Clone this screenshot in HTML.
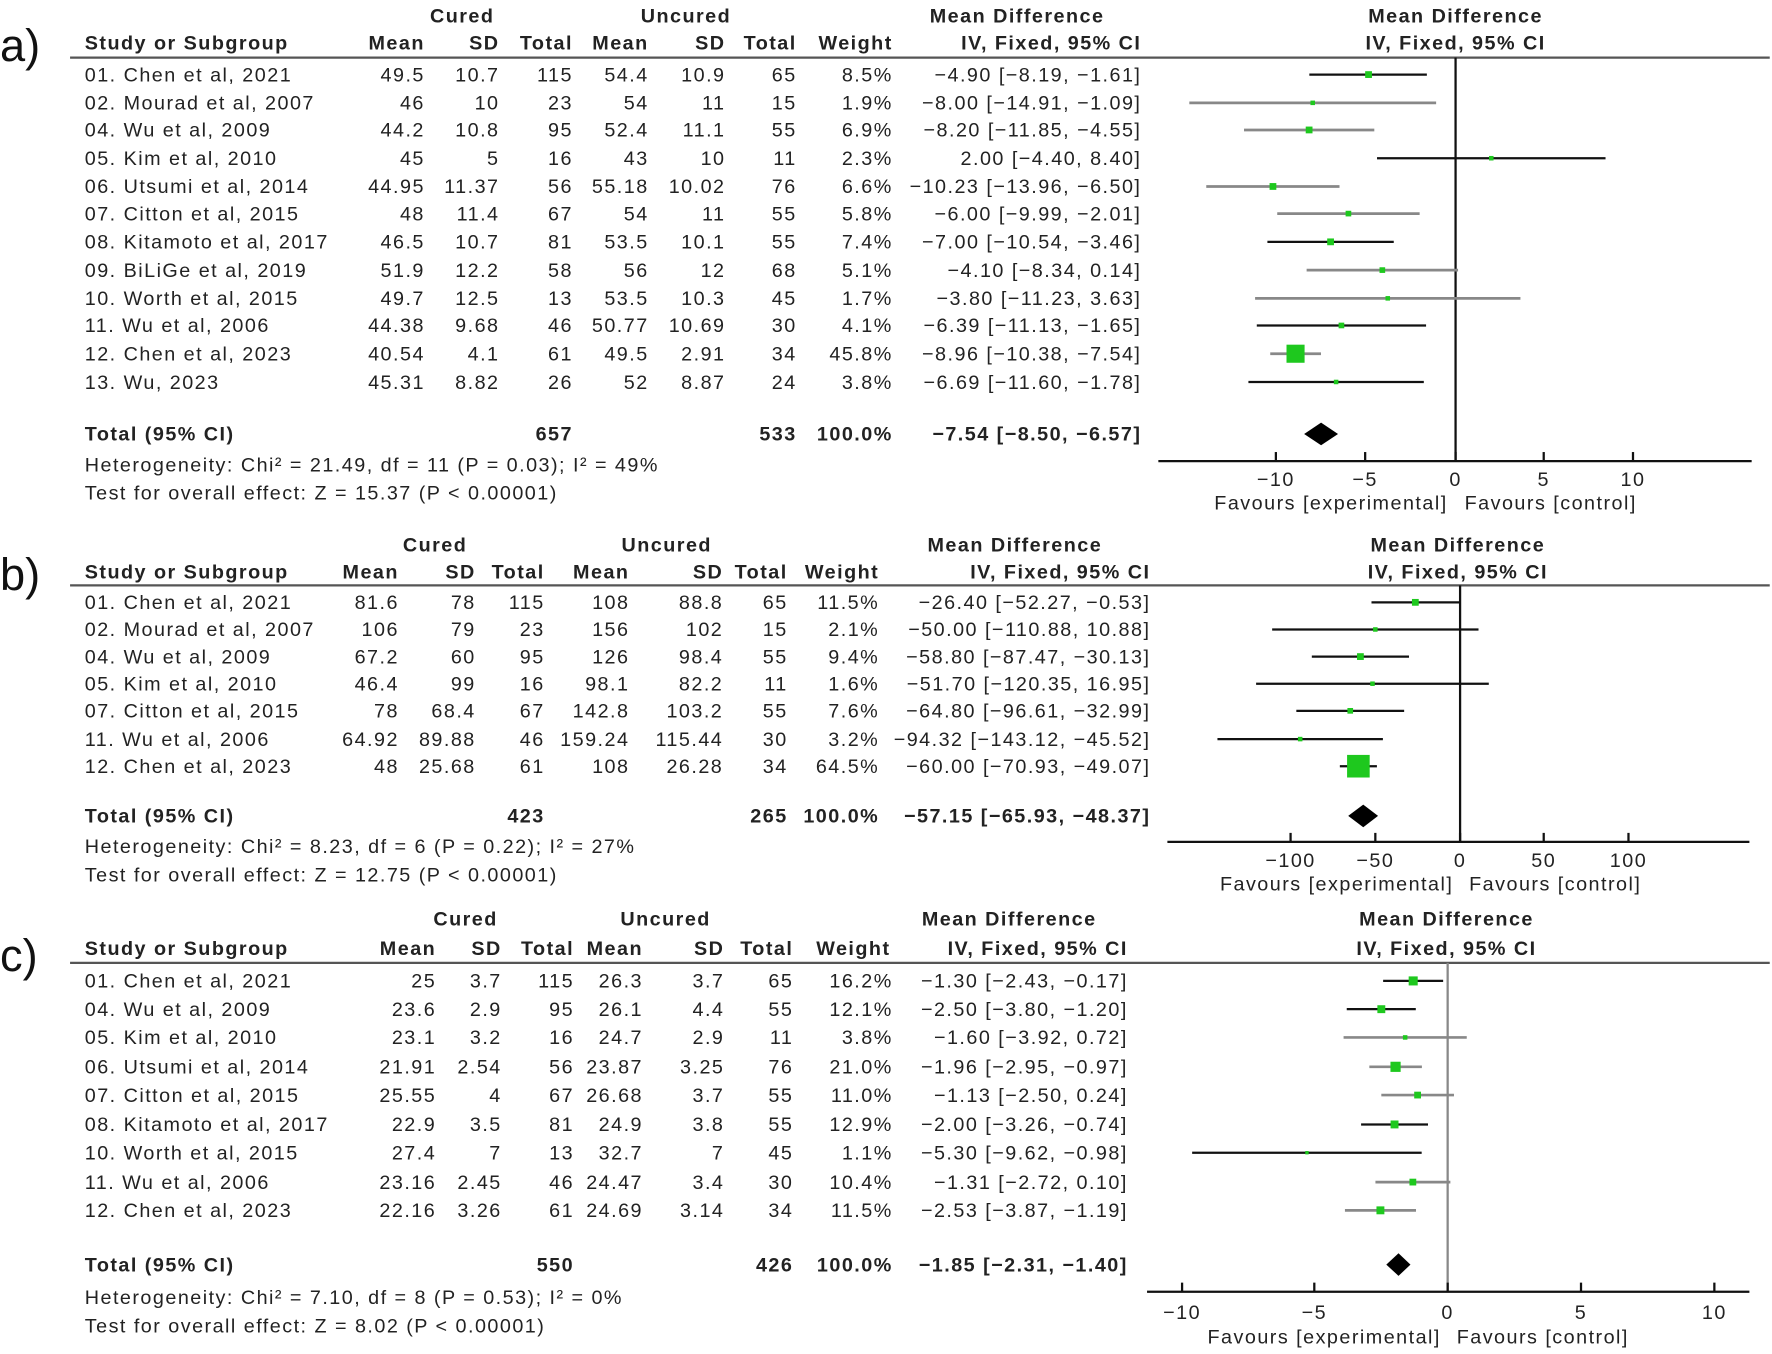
<!DOCTYPE html>
<html><head><meta charset="utf-8"><style>
html,body{margin:0;padding:0;background:#fff;width:1772px;height:1353px;overflow:hidden}
svg{position:absolute;left:0;top:0;transform-origin:0 0;transform:scale(1.1301)}
text{font-family:"Liberation Sans",sans-serif;font-size:17.5px;fill:#222;letter-spacing:1.3px}
.b{font-weight:bold}
.e{text-anchor:end}.m{text-anchor:middle}
.lab{font-size:40px;fill:#111;letter-spacing:0}
.k{stroke:#111;stroke-width:2}.g{stroke:#888;stroke-width:2.4}
.bx{fill:#1ec81e}
</style></head><body>
<svg width="1568" height="1198" viewBox="0 0 1568 1198" xmlns="http://www.w3.org/2000/svg">
<!-- ================= A ================= -->
<text class="lab" x="0" y="54">a)</text>
<g class="b">
<text class="m" x="409" y="20">Cured</text><text class="m" x="607" y="20">Uncured</text>
<text class="m" x="900" y="20">Mean Difference</text><text class="m" x="1288" y="20">Mean Difference</text>
<text x="75" y="44">Study or Subgroup</text>
<text class="e" x="376" y="44">Mean</text><text class="e" x="442" y="44">SD</text><text class="e" x="507" y="44">Total</text>
<text class="e" x="574" y="44">Mean</text><text class="e" x="642" y="44">SD</text><text class="e" x="705" y="44">Total</text>
<text class="e" x="790" y="44">Weight</text><text class="e" x="1010" y="44">IV, Fixed, 95% CI</text>
<text class="m" x="1288" y="44">IV, Fixed, 95% CI</text>
</g>
<line x1="62" y1="51" x2="1566" y2="51" stroke="#555" stroke-width="2"/>
<g>
<text x="75" y="72">01. Chen et al, 2021</text><text class="e" x="376" y="72">49.5</text><text class="e" x="442" y="72">10.7</text><text class="e" x="507" y="72">115</text><text class="e" x="574" y="72">54.4</text><text class="e" x="642" y="72">10.9</text><text class="e" x="705" y="72">65</text><text class="e" x="790" y="72">8.5%</text><text class="e" x="1010" y="72">−4.90 [−8.19, −1.61]</text>
<text x="75" y="97">02. Mourad et al, 2007</text><text class="e" x="376" y="97">46</text><text class="e" x="442" y="97">10</text><text class="e" x="507" y="97">23</text><text class="e" x="574" y="97">54</text><text class="e" x="642" y="97">11</text><text class="e" x="705" y="97">15</text><text class="e" x="790" y="97">1.9%</text><text class="e" x="1010" y="97">−8.00 [−14.91, −1.09]</text>
<text x="75" y="121">04. Wu et al, 2009</text><text class="e" x="376" y="121">44.2</text><text class="e" x="442" y="121">10.8</text><text class="e" x="507" y="121">95</text><text class="e" x="574" y="121">52.4</text><text class="e" x="642" y="121">11.1</text><text class="e" x="705" y="121">55</text><text class="e" x="790" y="121">6.9%</text><text class="e" x="1010" y="121">−8.20 [−11.85, −4.55]</text>
<text x="75" y="146">05. Kim et al, 2010</text><text class="e" x="376" y="146">45</text><text class="e" x="442" y="146">5</text><text class="e" x="507" y="146">16</text><text class="e" x="574" y="146">43</text><text class="e" x="642" y="146">10</text><text class="e" x="705" y="146">11</text><text class="e" x="790" y="146">2.3%</text><text class="e" x="1010" y="146">2.00 [−4.40, 8.40]</text>
<text x="75" y="171">06. Utsumi et al, 2014</text><text class="e" x="376" y="171">44.95</text><text class="e" x="442" y="171">11.37</text><text class="e" x="507" y="171">56</text><text class="e" x="574" y="171">55.18</text><text class="e" x="642" y="171">10.02</text><text class="e" x="705" y="171">76</text><text class="e" x="790" y="171">6.6%</text><text class="e" x="1010" y="171">−10.23 [−13.96, −6.50]</text>
<text x="75" y="195">07. Citton et al, 2015</text><text class="e" x="376" y="195">48</text><text class="e" x="442" y="195">11.4</text><text class="e" x="507" y="195">67</text><text class="e" x="574" y="195">54</text><text class="e" x="642" y="195">11</text><text class="e" x="705" y="195">55</text><text class="e" x="790" y="195">5.8%</text><text class="e" x="1010" y="195">−6.00 [−9.99, −2.01]</text>
<text x="75" y="220">08. Kitamoto et al, 2017</text><text class="e" x="376" y="220">46.5</text><text class="e" x="442" y="220">10.7</text><text class="e" x="507" y="220">81</text><text class="e" x="574" y="220">53.5</text><text class="e" x="642" y="220">10.1</text><text class="e" x="705" y="220">55</text><text class="e" x="790" y="220">7.4%</text><text class="e" x="1010" y="220">−7.00 [−10.54, −3.46]</text>
<text x="75" y="245">09. BiLiGe et al, 2019</text><text class="e" x="376" y="245">51.9</text><text class="e" x="442" y="245">12.2</text><text class="e" x="507" y="245">58</text><text class="e" x="574" y="245">56</text><text class="e" x="642" y="245">12</text><text class="e" x="705" y="245">68</text><text class="e" x="790" y="245">5.1%</text><text class="e" x="1010" y="245">−4.10 [−8.34, 0.14]</text>
<text x="75" y="270">10. Worth et al, 2015</text><text class="e" x="376" y="270">49.7</text><text class="e" x="442" y="270">12.5</text><text class="e" x="507" y="270">13</text><text class="e" x="574" y="270">53.5</text><text class="e" x="642" y="270">10.3</text><text class="e" x="705" y="270">45</text><text class="e" x="790" y="270">1.7%</text><text class="e" x="1010" y="270">−3.80 [−11.23, 3.63]</text>
<text x="75" y="294">11. Wu et al, 2006</text><text class="e" x="376" y="294">44.38</text><text class="e" x="442" y="294">9.68</text><text class="e" x="507" y="294">46</text><text class="e" x="574" y="294">50.77</text><text class="e" x="642" y="294">10.69</text><text class="e" x="705" y="294">30</text><text class="e" x="790" y="294">4.1%</text><text class="e" x="1010" y="294">−6.39 [−11.13, −1.65]</text>
<text x="75" y="319">12. Chen et al, 2023</text><text class="e" x="376" y="319">40.54</text><text class="e" x="442" y="319">4.1</text><text class="e" x="507" y="319">61</text><text class="e" x="574" y="319">49.5</text><text class="e" x="642" y="319">2.91</text><text class="e" x="705" y="319">34</text><text class="e" x="790" y="319">45.8%</text><text class="e" x="1010" y="319">−8.96 [−10.38, −7.54]</text>
<text x="75" y="344">13. Wu, 2023</text><text class="e" x="376" y="344">45.31</text><text class="e" x="442" y="344">8.82</text><text class="e" x="507" y="344">26</text><text class="e" x="574" y="344">52</text><text class="e" x="642" y="344">8.87</text><text class="e" x="705" y="344">24</text><text class="e" x="790" y="344">3.8%</text><text class="e" x="1010" y="344">−6.69 [−11.60, −1.78]</text>
</g>
<g class="b"><text x="75" y="390">Total (95% CI)</text><text class="e" x="507" y="390">657</text><text class="e" x="705" y="390">533</text><text class="e" x="790" y="390">100.0%</text><text class="e" x="1010" y="390">−7.54 [−8.50, −6.57]</text></g>
<text x="75" y="417">Heterogeneity: Chi² = 21.49, df = 11 (P = 0.03); I² = 49%</text>
<text x="75" y="442">Test for overall effect: Z = 15.37 (P &lt; 0.00001)</text>
<line x1="1288" y1="51" x2="1288" y2="408" class="k" stroke-width="1.6"/>
<g>
<line class="k" x1="1158.6" y1="66" x2="1262.6" y2="66"/><rect class="bx" x="1208" y="63" width="6" height="6"/>
<line class="g" x1="1052.4" y1="91" x2="1270.8" y2="91"/><rect class="bx" x="1159.6" y="89" width="4" height="4"/>
<line class="g" x1="1100.8" y1="115" x2="1216.1" y2="115"/><rect class="bx" x="1155.4" y="112" width="6" height="6"/>
<line class="k" x1="1218.5" y1="140" x2="1420.7" y2="140"/><rect class="bx" x="1317.6" y="138" width="4" height="4"/>
<line class="g" x1="1067.4" y1="165" x2="1185.3" y2="165"/><rect class="bx" x="1123.4" y="162" width="6" height="6"/>
<line class="g" x1="1130.2" y1="189" x2="1256.2" y2="189"/><rect class="bx" x="1190.7" y="186.5" width="5" height="5"/>
<line class="k" x1="1121.5" y1="214" x2="1233.3" y2="214"/><rect class="bx" x="1174.4" y="211" width="6" height="6"/>
<line class="g" x1="1156.2" y1="239" x2="1290.2" y2="239"/><rect class="bx" x="1220.7" y="236.5" width="5" height="5"/>
<line class="g" x1="1110.6" y1="264" x2="1345.4" y2="264"/><rect class="bx" x="1226" y="262" width="4" height="4"/>
<line class="k" x1="1112.1" y1="288" x2="1261.9" y2="288"/><rect class="bx" x="1184.5" y="285.5" width="5" height="5"/>
<line class="g" x1="1124" y1="313" x2="1168.9" y2="313"/><rect class="bx" x="1138.4" y="305" width="16" height="16"/>
<line class="k" x1="1104.7" y1="338" x2="1259.9" y2="338"/><rect class="bx" x="1180.3" y="336" width="4" height="4"/>
<polygon points="1154,384 1169,374 1184,384 1169,394" fill="#000"/>
</g>
<line x1="1025" y1="408" x2="1550" y2="408" class="k"/>
<g class="k"><line x1="1129" y1="400" x2="1129" y2="408"/><line x1="1208" y1="400" x2="1208" y2="408"/><line x1="1288" y1="400" x2="1288" y2="408"/><line x1="1366" y1="400" x2="1366" y2="408"/><line x1="1445" y1="400" x2="1445" y2="408"/></g>
<text class="m" x="1129" y="430">−10</text><text class="m" x="1208" y="430">−5</text><text class="m" x="1288" y="430">0</text><text class="m" x="1366" y="430">5</text><text class="m" x="1445" y="430">10</text>
<text class="e" x="1281" y="451">Favours [experimental]</text><text x="1296" y="451">Favours [control]</text>

<!-- ================= B ================= -->
<text class="lab" x="0" y="522">b)</text>
<g class="b">
<text class="m" x="385" y="488">Cured</text><text class="m" x="590" y="488">Uncured</text>
<text class="m" x="898" y="488">Mean Difference</text><text class="m" x="1290" y="488">Mean Difference</text>
<text x="75" y="512">Study or Subgroup</text>
<text class="e" x="353" y="512">Mean</text><text class="e" x="421" y="512">SD</text><text class="e" x="482" y="512">Total</text>
<text class="e" x="557" y="512">Mean</text><text class="e" x="640" y="512">SD</text><text class="e" x="697" y="512">Total</text>
<text class="e" x="778" y="512">Weight</text><text class="e" x="1018" y="512">IV, Fixed, 95% CI</text>
<text class="m" x="1290" y="512">IV, Fixed, 95% CI</text>
</g>
<line x1="62" y1="518" x2="1566" y2="518" stroke="#555" stroke-width="2"/>
<g>
<text x="75" y="539">01. Chen et al, 2021</text><text class="e" x="353" y="539">81.6</text><text class="e" x="421" y="539">78</text><text class="e" x="482" y="539">115</text><text class="e" x="557" y="539">108</text><text class="e" x="640" y="539">88.8</text><text class="e" x="697" y="539">65</text><text class="e" x="778" y="539">11.5%</text><text class="e" x="1018" y="539">−26.40 [−52.27, −0.53]</text>
<text x="75" y="563">02. Mourad et al, 2007</text><text class="e" x="353" y="563">106</text><text class="e" x="421" y="563">79</text><text class="e" x="482" y="563">23</text><text class="e" x="557" y="563">156</text><text class="e" x="640" y="563">102</text><text class="e" x="697" y="563">15</text><text class="e" x="778" y="563">2.1%</text><text class="e" x="1018" y="563">−50.00 [−110.88, 10.88]</text>
<text x="75" y="587">04. Wu et al, 2009</text><text class="e" x="353" y="587">67.2</text><text class="e" x="421" y="587">60</text><text class="e" x="482" y="587">95</text><text class="e" x="557" y="587">126</text><text class="e" x="640" y="587">98.4</text><text class="e" x="697" y="587">55</text><text class="e" x="778" y="587">9.4%</text><text class="e" x="1018" y="587">−58.80 [−87.47, −30.13]</text>
<text x="75" y="611">05. Kim et al, 2010</text><text class="e" x="353" y="611">46.4</text><text class="e" x="421" y="611">99</text><text class="e" x="482" y="611">16</text><text class="e" x="557" y="611">98.1</text><text class="e" x="640" y="611">82.2</text><text class="e" x="697" y="611">11</text><text class="e" x="778" y="611">1.6%</text><text class="e" x="1018" y="611">−51.70 [−120.35, 16.95]</text>
<text x="75" y="635">07. Citton et al, 2015</text><text class="e" x="353" y="635">78</text><text class="e" x="421" y="635">68.4</text><text class="e" x="482" y="635">67</text><text class="e" x="557" y="635">142.8</text><text class="e" x="640" y="635">103.2</text><text class="e" x="697" y="635">55</text><text class="e" x="778" y="635">7.6%</text><text class="e" x="1018" y="635">−64.80 [−96.61, −32.99]</text>
<text x="75" y="660">11. Wu et al, 2006</text><text class="e" x="353" y="660">64.92</text><text class="e" x="421" y="660">89.88</text><text class="e" x="482" y="660">46</text><text class="e" x="557" y="660">159.24</text><text class="e" x="640" y="660">115.44</text><text class="e" x="697" y="660">30</text><text class="e" x="778" y="660">3.2%</text><text class="e" x="1018" y="660">−94.32 [−143.12, −45.52]</text>
<text x="75" y="684">12. Chen et al, 2023</text><text class="e" x="353" y="684">48</text><text class="e" x="421" y="684">25.68</text><text class="e" x="482" y="684">61</text><text class="e" x="557" y="684">108</text><text class="e" x="640" y="684">26.28</text><text class="e" x="697" y="684">34</text><text class="e" x="778" y="684">64.5%</text><text class="e" x="1018" y="684">−60.00 [−70.93, −49.07]</text>
</g>
<g class="b"><text x="75" y="728">Total (95% CI)</text><text class="e" x="482" y="728">423</text><text class="e" x="697" y="728">265</text><text class="e" x="778" y="728">100.0%</text><text class="e" x="1018" y="728">−57.15 [−65.93, −48.37]</text></g>
<text x="75" y="755">Heterogeneity: Chi² = 8.23, df = 6 (P = 0.22); I² = 27%</text>
<text x="75" y="780">Test for overall effect: Z = 12.75 (P &lt; 0.00001)</text>
<line x1="1292" y1="518" x2="1292" y2="745" class="k" stroke-width="1.6"/>
<g>
<line class="k" x1="1213.6" y1="533" x2="1291.2" y2="533"/><rect class="bx" x="1249.4" y="530" width="6" height="6"/>
<line class="k" x1="1125.7" y1="557" x2="1308.3" y2="557"/><rect class="bx" x="1215" y="555" width="4" height="4"/>
<line class="k" x1="1160.8" y1="581" x2="1246.8" y2="581"/><rect class="bx" x="1200.8" y="578" width="6" height="6"/>
<line class="k" x1="1111.5" y1="605" x2="1317.4" y2="605"/><rect class="bx" x="1212.5" y="603" width="4" height="4"/>
<line class="k" x1="1147.1" y1="629" x2="1242.5" y2="629"/><rect class="bx" x="1192.3" y="626.5" width="5" height="5"/>
<line class="k" x1="1077.3" y1="654" x2="1223.7" y2="654"/><rect class="bx" x="1148.5" y="652" width="4" height="4"/>
<line class="k" x1="1185.6" y1="678" x2="1218.4" y2="678"/><rect class="bx" x="1192" y="668" width="20" height="20"/>
<polygon points="1193,722 1206.3,712 1219.4,722 1206.3,732" fill="#000"/>
</g>
<line x1="1033" y1="745" x2="1548" y2="745" class="k"/>
<g class="k"><line x1="1142" y1="737" x2="1142" y2="745"/><line x1="1217" y1="737" x2="1217" y2="745"/><line x1="1292" y1="737" x2="1292" y2="745"/><line x1="1366" y1="737" x2="1366" y2="745"/><line x1="1441" y1="737" x2="1441" y2="745"/></g>
<text class="m" x="1142" y="767">−100</text><text class="m" x="1217" y="767">−50</text><text class="m" x="1292" y="767">0</text><text class="m" x="1366" y="767">50</text><text class="m" x="1441" y="767">100</text>
<text class="e" x="1286" y="788">Favours [experimental]</text><text x="1300" y="788">Favours [control]</text>

<!-- ================= C ================= -->
<text class="lab" x="0" y="859">c)</text>
<g class="b">
<text class="m" x="412" y="819">Cured</text><text class="m" x="589" y="819">Uncured</text>
<text class="m" x="893" y="819">Mean Difference</text><text class="m" x="1280" y="819">Mean Difference</text>
<text x="75" y="845">Study or Subgroup</text>
<text class="e" x="386" y="845">Mean</text><text class="e" x="444" y="845">SD</text><text class="e" x="508" y="845">Total</text>
<text class="e" x="569" y="845">Mean</text><text class="e" x="641" y="845">SD</text><text class="e" x="702" y="845">Total</text>
<text class="e" x="788" y="845">Weight</text><text class="e" x="998" y="845">IV, Fixed, 95% CI</text>
<text class="m" x="1280" y="845">IV, Fixed, 95% CI</text>
</g>
<line x1="62" y1="852" x2="1566" y2="852" stroke="#555" stroke-width="2"/>
<g>
<text x="75" y="874">01. Chen et al, 2021</text><text class="e" x="386" y="874">25</text><text class="e" x="444" y="874">3.7</text><text class="e" x="508" y="874">115</text><text class="e" x="569" y="874">26.3</text><text class="e" x="641" y="874">3.7</text><text class="e" x="702" y="874">65</text><text class="e" x="790" y="874">16.2%</text><text class="e" x="998" y="874">−1.30 [−2.43, −0.17]</text>
<text x="75" y="899">04. Wu et al, 2009</text><text class="e" x="386" y="899">23.6</text><text class="e" x="444" y="899">2.9</text><text class="e" x="508" y="899">95</text><text class="e" x="569" y="899">26.1</text><text class="e" x="641" y="899">4.4</text><text class="e" x="702" y="899">55</text><text class="e" x="790" y="899">12.1%</text><text class="e" x="998" y="899">−2.50 [−3.80, −1.20]</text>
<text x="75" y="924">05. Kim et al, 2010</text><text class="e" x="386" y="924">23.1</text><text class="e" x="444" y="924">3.2</text><text class="e" x="508" y="924">16</text><text class="e" x="569" y="924">24.7</text><text class="e" x="641" y="924">2.9</text><text class="e" x="702" y="924">11</text><text class="e" x="790" y="924">3.8%</text><text class="e" x="998" y="924">−1.60 [−3.92, 0.72]</text>
<text x="75" y="950">06. Utsumi et al, 2014</text><text class="e" x="386" y="950">21.91</text><text class="e" x="444" y="950">2.54</text><text class="e" x="508" y="950">56</text><text class="e" x="569" y="950">23.87</text><text class="e" x="641" y="950">3.25</text><text class="e" x="702" y="950">76</text><text class="e" x="790" y="950">21.0%</text><text class="e" x="998" y="950">−1.96 [−2.95, −0.97]</text>
<text x="75" y="975">07. Citton et al, 2015</text><text class="e" x="386" y="975">25.55</text><text class="e" x="444" y="975">4</text><text class="e" x="508" y="975">67</text><text class="e" x="569" y="975">26.68</text><text class="e" x="641" y="975">3.7</text><text class="e" x="702" y="975">55</text><text class="e" x="790" y="975">11.0%</text><text class="e" x="998" y="975">−1.13 [−2.50, 0.24]</text>
<text x="75" y="1001">08. Kitamoto et al, 2017</text><text class="e" x="386" y="1001">22.9</text><text class="e" x="444" y="1001">3.5</text><text class="e" x="508" y="1001">81</text><text class="e" x="569" y="1001">24.9</text><text class="e" x="641" y="1001">3.8</text><text class="e" x="702" y="1001">55</text><text class="e" x="790" y="1001">12.9%</text><text class="e" x="998" y="1001">−2.00 [−3.26, −0.74]</text>
<text x="75" y="1026">10. Worth et al, 2015</text><text class="e" x="386" y="1026">27.4</text><text class="e" x="444" y="1026">7</text><text class="e" x="508" y="1026">13</text><text class="e" x="569" y="1026">32.7</text><text class="e" x="641" y="1026">7</text><text class="e" x="702" y="1026">45</text><text class="e" x="790" y="1026">1.1%</text><text class="e" x="998" y="1026">−5.30 [−9.62, −0.98]</text>
<text x="75" y="1052">11. Wu et al, 2006</text><text class="e" x="386" y="1052">23.16</text><text class="e" x="444" y="1052">2.45</text><text class="e" x="508" y="1052">46</text><text class="e" x="569" y="1052">24.47</text><text class="e" x="641" y="1052">3.4</text><text class="e" x="702" y="1052">30</text><text class="e" x="790" y="1052">10.4%</text><text class="e" x="998" y="1052">−1.31 [−2.72, 0.10]</text>
<text x="75" y="1077">12. Chen et al, 2023</text><text class="e" x="386" y="1077">22.16</text><text class="e" x="444" y="1077">3.26</text><text class="e" x="508" y="1077">61</text><text class="e" x="569" y="1077">24.69</text><text class="e" x="641" y="1077">3.14</text><text class="e" x="702" y="1077">34</text><text class="e" x="790" y="1077">11.5%</text><text class="e" x="998" y="1077">−2.53 [−3.87, −1.19]</text>
</g>
<g class="b"><text x="75" y="1125">Total (95% CI)</text><text class="e" x="508" y="1125">550</text><text class="e" x="702" y="1125">426</text><text class="e" x="790" y="1125">100.0%</text><text class="e" x="998" y="1125">−1.85 [−2.31, −1.40]</text></g>
<text x="75" y="1154">Heterogeneity: Chi² = 7.10, df = 8 (P = 0.53); I² = 0%</text>
<text x="75" y="1179">Test for overall effect: Z = 8.02 (P &lt; 0.00001)</text>
<line x1="1281" y1="852" x2="1281" y2="1143" stroke="#888" stroke-width="2"/>
<g>
<line class="k" x1="1223.9" y1="868" x2="1277" y2="868"/><rect class="bx" x="1246.5" y="864" width="8" height="8"/>
<line class="k" x1="1191.7" y1="893" x2="1252.8" y2="893"/><rect class="bx" x="1218.8" y="889.5" width="7" height="7"/>
<line class="g" x1="1188.9" y1="918" x2="1297.9" y2="918"/><rect class="bx" x="1241.4" y="916" width="4" height="4"/>
<line class="g" x1="1211.7" y1="944" x2="1258.2" y2="944"/><rect class="bx" x="1230.4" y="939.5" width="9" height="9"/>
<line class="g" x1="1222.3" y1="969" x2="1286.6" y2="969"/><rect class="bx" x="1251.4" y="966" width="6" height="6"/>
<line class="k" x1="1204.4" y1="995" x2="1263.6" y2="995"/><rect class="bx" x="1230.5" y="991.5" width="7" height="7"/>
<line class="k" x1="1054.9" y1="1020" x2="1258" y2="1020"/><rect class="bx" x="1155" y="1018.5" width="3" height="3"/>
<line class="g" x1="1217.1" y1="1046" x2="1283.4" y2="1046"/><rect class="bx" x="1247.2" y="1043" width="6" height="6"/>
<line class="g" x1="1190.1" y1="1071" x2="1253" y2="1071"/><rect class="bx" x="1218" y="1067.5" width="7" height="7"/>
<polygon points="1226.7,1119 1237.5,1109 1248.1,1119 1237.5,1129" fill="#000"/>
</g>
<line x1="1015" y1="1143" x2="1548" y2="1143" class="k"/>
<g class="k"><line x1="1046" y1="1135" x2="1046" y2="1143"/><line x1="1163" y1="1135" x2="1163" y2="1143"/><line x1="1281" y1="1135" x2="1281" y2="1143"/><line x1="1399" y1="1135" x2="1399" y2="1143"/><line x1="1517" y1="1135" x2="1517" y2="1143"/></g>
<text class="m" x="1046" y="1167">−10</text><text class="m" x="1163" y="1167">−5</text><text class="m" x="1281" y="1167">0</text><text class="m" x="1399" y="1167">5</text><text class="m" x="1517" y="1167">10</text>
<text class="e" x="1275" y="1189">Favours [experimental]</text><text x="1289" y="1189">Favours [control]</text>
</svg>
</body></html>
